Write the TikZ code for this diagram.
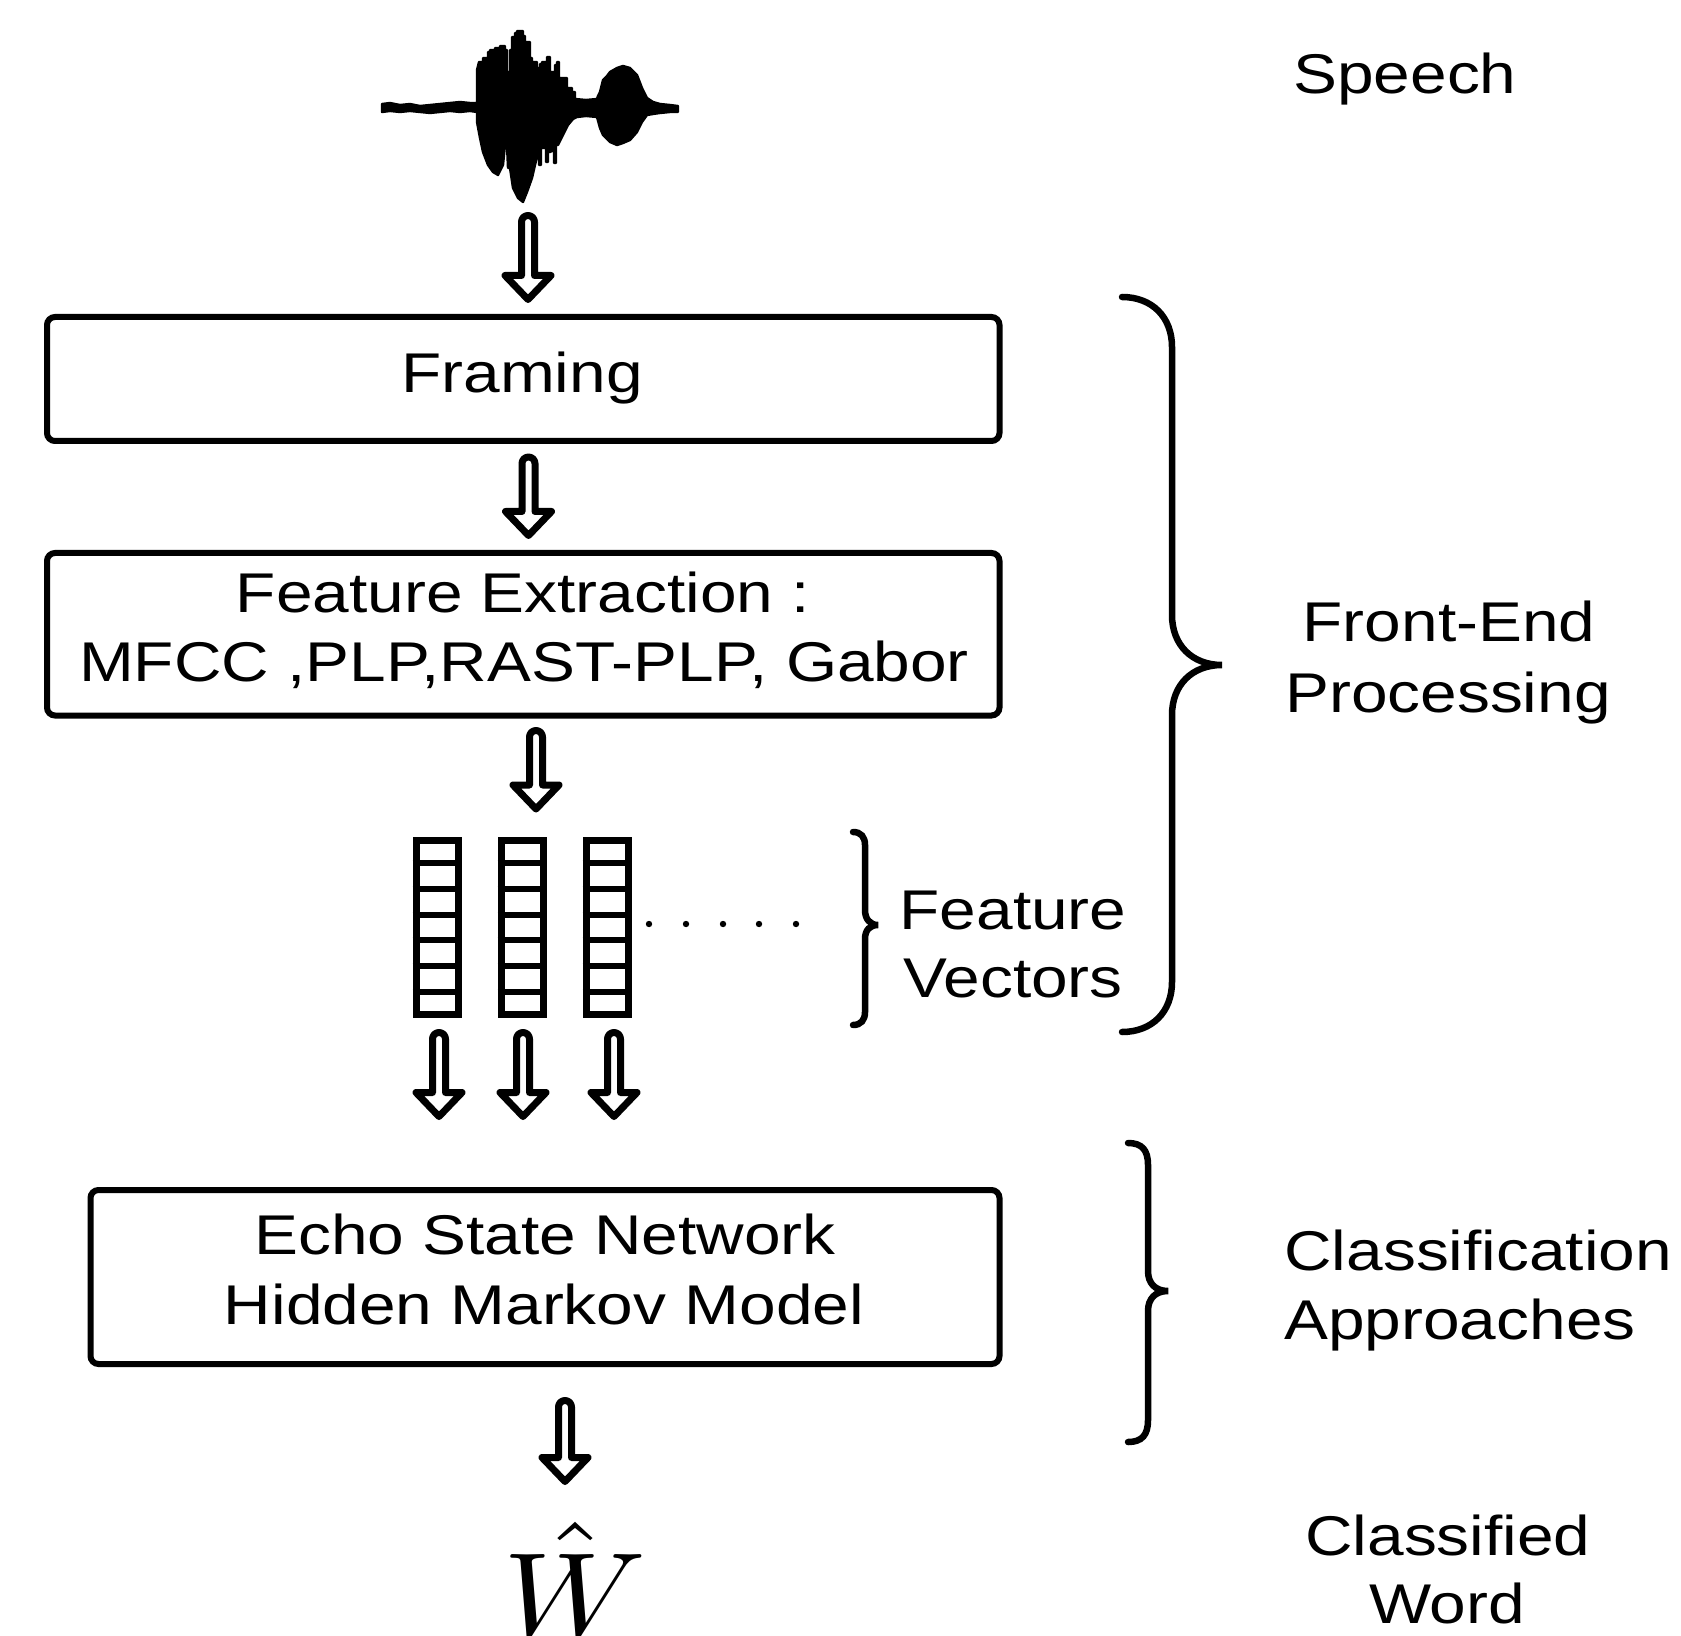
\documentclass[tikz,border=0pt]{standalone}
\usepackage{fontspec}
\setmainfont{Liberation Sans}[FakeStretch=1.175]
\usepackage{graphicx}
\usetikzlibrary{calc}

\tikzset{
  stagebox/.style={draw, line width=3pt, rounded corners=4pt, inner sep=0pt},
  txt/.style={font=\fontsize{28}{34}\selectfont, inner sep=0pt, anchor=base},
  blockarrow/.style={draw, line width=3.5pt, line join=round, fill=white},
  bracestroke/.style={draw, line width=3.25pt, line cap=round},
  vecbox/.style={draw, line width=3.5pt, minimum width=21pt, minimum height=87pt, inner sep=0pt},
  cellline/.style={line width=3pt},
}

% hollow block arrow: #1 = top of the rounded shaft, #2 = tip
\newcommand\hollowarrow[2]{%
  \path[blockarrow] let \p1=(#1), \p2=(#2) in
    (\x1-3.25pt,\y2+12pt) -- (\x1-3.25pt,\y1-3.25pt)
    arc[start angle=180,end angle=0,radius=3.25pt]
    -- (\x1+3.25pt,\y2+12pt) -- (\x1+11.5pt,\y2+12pt) -- (\x2,\y2)
    -- (\x1-11.5pt,\y2+12pt) -- cycle;}

\begin{document}
\begin{tikzpicture}[x=0.5pt,y=-0.5pt]
\useasboundingbox (0,0) rectangle (1681,1636);

% speech waveform
\fill[draw, line width=1.2pt, line join=round]
  (382,104) -- (390,103) -- (400,105) -- (410,104) -- (420,106) -- (430,105)
  -- (440,104) -- (450,103) -- (460,102) -- (470,103) -- (477,103)
  -- (477,70) -- (479,62) -- (483,62) -- (483,58) -- (488,58) -- (488,52)
  -- (490,52) -- (490,50) -- (495,50) -- (495,48) -- (500,48) -- (500,46)
  -- (505,46) -- (505,50) -- (507,50) -- (507,72) -- (510,72) -- (510,50)
  -- (512,50) -- (512,37) -- (515,37) -- (515,33) -- (517,33) -- (517,31)
  -- (523,31) -- (523,36) -- (525,36) -- (525,42) -- (530,42) -- (530,58)
  -- (532,58) -- (532,62) -- (537,62) -- (537,68) -- (540,68) -- (540,64)
  -- (542,64) -- (542,62) -- (547,62) -- (547,57) -- (550,57) -- (550,72)
  -- (555,72) -- (555,65) -- (557,65) -- (557,62) -- (559,62) -- (559,78)
  -- (562,78) -- (567,78) -- (567,88) -- (572,88) -- (572,92) -- (575,92)
  -- (575,99) -- (586,100) -- (597,99) -- (598,96) -- (600,92) -- (603,80)
  -- (607,76) -- (610,72) -- (617,68) -- (623,66) -- (630,68) -- (637,75)
  -- (642,88) -- (647,98) -- (653,102) -- (660,104) -- (670,105) -- (678,106)
  -- (678,112) -- (670,112) -- (660,113) -- (653,114) -- (647,115) -- (642,122)
  -- (637,132) -- (630,140) -- (623,143) -- (617,145) -- (610,142) -- (603,135)
  -- (600,128) -- (597,117) -- (586,116) -- (577,117) -- (573,119) -- (568,125)
  -- (563,135) -- (558,145) -- (556,145) -- (556,163) -- (554,163) -- (554,150)
  -- (550,152) -- (548,152) -- (548,162) -- (546,162) -- (546,148) -- (543,148)
  -- (541,148) -- (541,165) -- (539,165) -- (539,152) -- (538,152) -- (535,165)
  -- (532,178) -- (527,192) -- (523,202) -- (518,198) -- (513,188) -- (510,168)
  -- (508,168) -- (507,145) -- (505,145) -- (503,165) -- (498,175) -- (493,172)
  -- (488,165) -- (483,152) -- (480,138) -- (477,122) -- (477,112)
  -- (470,111) -- (460,112) -- (450,111) -- (440,112) -- (430,113) -- (420,112)
  -- (410,111) -- (400,112) -- (390,111) -- (382,112) -- cycle;

% processing stages
\node[stagebox, minimum width=476.25pt, minimum height=62pt] (framing) at (523.25,379) {};
\node[stagebox, minimum width=476.25pt, minimum height=81.25pt] (features) at (523.25,634.25) {};
\node[stagebox, minimum width=454.5pt, minimum height=87pt] (classifier) at (545,1277) {};

\node[txt] (framingtxt) at (522,393) {Framing};
\node[txt] (fe1) at (523,612) {Feature Extraction :};
\node[txt] (fe2) at (524,681) {MFCC ,PLP,RAST-PLP, Gabor};
\node[txt] (esn) at (545,1254) {Echo State Network};
\node[txt] (hmm) at (544,1324) {Hidden Markov Model};

% feature vectors
\foreach \n/\cx in {v1/437.2, v2/522, v3/607} {
  \node[vecbox] (\n) at (\cx,927.5) {};
  \foreach \k in {1,...,6}
    \draw[cellline] ($(\n.north west)!\k/7!(\n.south west)$) -- ($(\n.north east)!\k/7!(\n.south east)$);
}
\foreach \dx in {649,686,723,759,796}
  \fill (\dx,924) circle[radius=1.6pt];

% arrow end points
\coordinate (a1s) at (528,215.5);   \coordinate (a1e) at (528,299.5);
\coordinate (a2s) at (528.5,457);   \coordinate (a2e) at (528.5,535.5);
\coordinate (a3s) at (536,730.5);   \coordinate (a3e) at (536,809);
\coordinate (a4s) at (439,1032.5);  \coordinate (a4e) at (439,1116.5);
\coordinate (a5s) at (523,1032.5);  \coordinate (a5e) at (523,1116.5);
\coordinate (a6s) at (614,1032.5);  \coordinate (a6e) at (614,1116.5);
\coordinate (a7s) at (565,1400.5);  \coordinate (a7e) at (565,1481.5);

\hollowarrow{a1s}{a1e}
\hollowarrow{a2s}{a2e}
\hollowarrow{a3s}{a3e}
\hollowarrow{a4s}{a4e}
\hollowarrow{a5s}{a5e}
\hollowarrow{a6s}{a6e}
\hollowarrow{a7s}{a7e}

% classified word
\node[inner sep=0pt, anchor=base] (what) at (575,1636) {\scalebox{6.6}[6]{$\hat{W}$}};

% braces
\path[bracestroke] (1122,297) .. controls (1152,297) and (1172,317) .. (1172,347)
  -- (1172,615) .. controls (1172,645) and (1192,665) .. (1222,665)
  .. controls (1192,665) and (1172,685) .. (1172,715)
  -- (1172,982) .. controls (1172,1012) and (1152,1032) .. (1122,1032);
\path[bracestroke] (853,832) .. controls (861,832) and (865,837) .. (865,845)
  -- (865,910) .. controls (865,919) and (870,925) .. (878,925)
  .. controls (870,925) and (865,930) .. (865,939)
  -- (865,1012) .. controls (865,1020) and (861,1025) .. (853,1025);
\path[bracestroke] (1128,1143) .. controls (1142,1143) and (1148,1150) .. (1148,1165)
  -- (1148,1271) .. controls (1148,1283) and (1155,1291) .. (1168,1291)
  .. controls (1155,1291) and (1148,1299) .. (1148,1311)
  -- (1148,1420) .. controls (1148,1435) and (1142,1442) .. (1128,1442);

% side labels
\node[txt] (speech) at (1405,94) {Speech};
\node[txt] (fe-a) at (1449,641) {Front-End};
\node[txt] (fe-b) at (1448,712) {Processing};
\node[txt] (fv-a) at (1013,929) {Feature};
\node[txt] (fv-b) at (1013,997) {Vectors};
\node[txt, anchor=base west] (ca-a) at (1284,1270) {Classification};
\node[txt, anchor=base west] (ca-b) at (1284,1339) {Approaches};
\node[txt] (cw-a) at (1448,1555) {Classified};
\node[txt] (cw-b) at (1447,1623) {Word};
\end{tikzpicture}
\end{document}
